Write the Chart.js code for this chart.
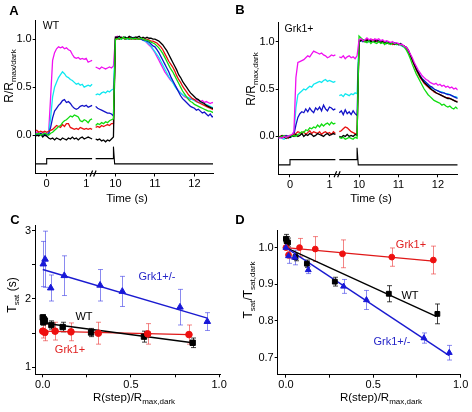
<!DOCTYPE html>
<html><head><meta charset="utf-8">
<script src="https://cdn.jsdelivr.net/npm/chart.js@4/dist/chart.umd.min.js"></script>
<style>
body{margin:0;width:472px;height:412px;background:#fff;position:relative;overflow:hidden;font-family:'Liberation Sans',Arial,Helvetica,sans-serif;color:#000;}
canvas{position:absolute;}
.t{position:absolute;transform:translate(-50%,-50%);white-space:nowrap;line-height:1;}
.r{transform:translate(-50%,-50%) rotate(-90deg);}
.s{font-size:8px;position:relative;top:3px;}
.p{font-weight:bold;font-size:13px;}
</style></head>
<body>
<canvas id="cA" width="236" height="210" style="left:0;top:0"></canvas>
<canvas id="cB" width="236" height="210" style="left:236px;top:0"></canvas>
<canvas id="cC" width="236" height="202" style="left:0;top:210px"></canvas>
<canvas id="cD" width="236" height="202" style="left:236px;top:210px"></canvas>

<div class="t p" style="left:14px;top:10px">A</div>
<div class="t p" style="left:240px;top:9px">B</div>
<div class="t p" style="left:15px;top:219px">C</div>
<div class="t p" style="left:240px;top:219px">D</div>

<div class="t" style="left:51px;top:25px;font-size:10.5px">WT</div>
<div class="t" style="left:299px;top:28px;font-size:10.5px">Grk1+</div>

<div class="t r" style="left:9px;top:76px;font-size:12px">R/R<span class="s">max/dark</span></div>
<div class="t r" style="left:251px;top:79px;font-size:12px">R/R<span class="s">max,dark</span></div>
<div class="t" style="left:127px;top:199px;font-size:11.5px">Time (s)</div>
<div class="t" style="left:371px;top:199px;font-size:11.5px">Time (s)</div>

<div class="t r" style="left:12px;top:295px;font-size:12px">T<span class="s">sat</span> (s)</div>
<div class="t r" style="left:248px;top:290px;font-size:12px">T<span class="s">sat</span>/T<span class="s">sat,dark</span></div>
<div class="t" style="left:134px;top:398px;font-size:11.5px">R(step)/R<span class="s">max,dark</span></div>
<div class="t" style="left:381px;top:398px;font-size:11.5px">R(step)/R<span class="s">max,dark</span></div>

<div class="t" style="left:157px;top:276px;font-size:11px;color:#2424c8">Grk1+/-</div>
<div class="t" style="left:84px;top:316px;font-size:11px">WT</div>
<div class="t" style="left:70px;top:349px;font-size:11px;color:#e02020">Grk1+</div>
<div class="t" style="left:411px;top:244px;font-size:11px;color:#e02020">Grk1+</div>
<div class="t" style="left:410px;top:295px;font-size:11px">WT</div>
<div class="t" style="left:392px;top:341px;font-size:11px;color:#2424c8">Grk1+/-</div>

<script>
// ---------- sampling grids (s) ----------
const leftTimes = []; for (let i = 0; i < 30; i++) leftTimes.push(+(-0.3 + 0.05 * i).toFixed(2));
const rightTimes = []; for (let i = 0; i < 61; i++) rightTimes.push(+(9.5 + 0.05 * i).toFixed(2));

// ---------- Panel A (WT) traces ----------
const aMagentaL = [0.02,0.03,0.02,0.01,0.03,0.02,0.01,0.03,0.40,0.78,0.86,0.90,0.92,0.91,0.92,0.90,0.91,0.89,0.88,0.84,0.81,0.80,0.81,0.79,0.80,0.79,0.80,0.76,0.77,0.78];
const aCyanL    = [0.01,0.00,0.02,0.01,0.00,0.01,0.00,0.02,0.18,0.40,0.50,0.55,0.60,0.63,0.66,0.64,0.61,0.60,0.58,0.57,0.55,0.53,0.54,0.52,0.53,0.50,0.51,0.52,0.51,0.53];
const aBlueL    = [0.00,0.01,0.00,0.02,0.00,0.01,0.00,0.01,0.08,0.18,0.25,0.28,0.31,0.33,0.36,0.37,0.34,0.35,0.33,0.30,0.28,0.27,0.28,0.30,0.31,0.30,0.31,0.29,0.30,0.31];
const aGreenL   = [0.02,0.01,0.02,0.00,0.01,0.02,0.01,0.00,0.02,0.03,0.05,0.07,0.09,0.10,0.13,0.15,0.16,0.18,0.20,0.19,0.21,0.20,0.19,0.15,0.14,0.16,0.15,0.13,0.16,0.17];
const aRedL     = [0.04,0.05,0.03,0.04,0.03,0.04,0.03,0.04,0.05,0.06,0.08,0.10,0.09,0.08,0.11,0.09,0.12,0.12,0.08,0.07,0.06,0.07,0.06,0.08,0.07,0.06,0.07,0.06,0.07,0.06];
const aBlackL   = [-0.02,0.00,-0.01,0.01,-0.02,0.00,-0.01,-0.03,-0.04,-0.03,-0.05,-0.03,-0.04,-0.05,-0.03,-0.04,-0.05,-0.03,-0.04,-0.02,-0.04,-0.03,-0.05,-0.03,-0.02,-0.04,-0.03,-0.02,-0.03,-0.04];

const aMagentaR = [0.71,0.70,0.69,0.71,0.70,0.69,0.70,0.71,0.70,0.72, 1.02, 1.03,1.02,1.01,1.02,1.00,1.01,1.02,1.00,1.01, 1.02,1.01,1.00,1.01,0.99,0.98,0.96,0.94,0.92,0.89, 0.86,0.82,0.78,0.74,0.70,0.66,0.63,0.60,0.57,0.55, 0.52,0.49,0.46,0.44,0.42,0.40,0.39,0.38,0.37,0.38, 0.36,0.37,0.36,0.35,0.36,0.34,0.35,0.34,0.33,0.34,0.33];
const aCyanR    = [0.42,0.43,0.42,0.44,0.45,0.44,0.46,0.45,0.47,0.48, 1.00, 1.01,1.02,1.00,1.01,1.02,1.00,1.01,1.00,1.02, 1.01,1.00,1.01,1.00,0.99,0.98,0.97,0.95,0.93,0.90, 0.87,0.84,0.81,0.77,0.73,0.69,0.65,0.61,0.58,0.55, 0.51,0.48,0.46,0.44,0.42,0.41,0.40,0.39,0.38,0.37, 0.36,0.35,0.34,0.34,0.33,0.32,0.32,0.31,0.30,0.29,0.28];
const aBlueR    = [0.30,0.28,0.27,0.26,0.25,0.24,0.23,0.23,0.22,0.20, 1.00, 1.01,1.00,1.02,1.01,1.00,1.01,1.00,1.02,1.01, 1.00,1.01,1.00,1.00,0.99,0.99,0.98,0.97,0.95,0.93, 0.92,0.89,0.86,0.82,0.78,0.74,0.70,0.66,0.61,0.57, 0.53,0.49,0.45,0.41,0.38,0.36,0.34,0.32,0.30,0.29, 0.28,0.26,0.27,0.25,0.23,0.24,0.22,0.20,0.22,0.19,0.20];
const aGreenR   = [0.10,0.12,0.11,0.13,0.12,0.14,0.13,0.15,0.16,0.17, 1.00, 1.00,1.01,1.00,1.02,1.00,1.01,1.00,1.01,1.00, 1.01,1.00,1.00,1.01,1.00,0.99,0.99,0.98,0.97,0.96, 0.95,0.93,0.91,0.88,0.85,0.81,0.77,0.73,0.69,0.66, 0.62,0.58,0.54,0.50,0.46,0.43,0.40,0.37,0.35,0.34, 0.32,0.31,0.30,0.29,0.28,0.27,0.26,0.25,0.25,0.24,0.23];
const aRedR     = [0.08,0.09,0.08,0.10,0.09,0.10,0.11,0.10,0.12,0.12, 1.00, 1.01,1.00,1.02,1.01,1.00,1.01,1.02,1.00,1.01, 1.00,1.01,1.00,1.01,1.00,1.00,1.00,0.99,0.98,0.98, 0.97,0.96,0.94,0.92,0.89,0.85,0.81,0.77,0.74,0.71, 0.67,0.62,0.58,0.55,0.51,0.48,0.45,0.42,0.40,0.38, 0.37,0.35,0.34,0.33,0.32,0.31,0.30,0.29,0.28,0.27,0.26];
const aBlackR   = [-0.04,-0.05,-0.04,-0.06,-0.05,-0.07,-0.05,-0.06,-0.04,-0.02, 1.02, 1.02,1.03,1.01,1.02,1.02,1.01,1.03,1.02,1.01, 1.02,1.02,1.03,1.01,1.02,1.01,1.02,1.01,1.01,1.00, 1.00,0.99,0.98,0.96,0.94,0.91,0.88,0.84,0.80,0.76, 0.72,0.68,0.63,0.60,0.56,0.53,0.50,0.47,0.44,0.42, 0.40,0.38,0.37,0.35,0.34,0.33,0.31,0.30,0.29,0.28,0.28];

// ---------- Panel B (Grk1+) traces ----------
const bMagentaL = [-0.02,-0.01,-0.02,0.00,-0.01,0.00,0.01,0.02,0.05,0.62,0.78,0.79,0.80,0.81,0.83,0.85,0.84,0.87,0.90,0.89,0.88,0.87,0.88,0.86,0.85,0.83,0.84,0.86,0.85,0.86];
const bCyanL    = [-0.02,-0.01,-0.02,-0.03,-0.01,-0.02,-0.01,0.00,0.02,0.30,0.44,0.46,0.48,0.50,0.49,0.51,0.53,0.52,0.55,0.56,0.57,0.58,0.57,0.59,0.60,0.58,0.59,0.58,0.57,0.58];
const bBlueL    = [-0.01,0.00,-0.01,0.00,0.01,0.00,-0.01,0.00,0.02,0.12,0.20,0.24,0.26,0.25,0.29,0.26,0.30,0.27,0.25,0.30,0.28,0.31,0.27,0.33,0.29,0.27,0.31,0.30,0.28,0.29];
const bGreenL   = [0.00,-0.01,0.00,0.01,-0.01,0.00,0.01,0.00,0.01,0.00,0.02,0.03,0.05,0.04,0.07,0.06,0.09,0.08,0.10,0.09,0.12,0.10,0.13,0.11,0.13,0.14,0.12,0.15,0.13,0.14];
const bRedL     = [-0.01,0.00,0.01,-0.01,0.00,-0.02,0.00,0.01,0.02,0.03,0.05,0.04,0.03,0.05,0.02,0.04,0.06,0.03,0.05,0.04,0.03,0.05,0.02,0.04,0.05,0.03,0.04,0.02,0.05,0.03];
const bBlackL   = [0.00,-0.01,0.01,0.00,-0.02,0.00,-0.01,0.01,0.00,0.02,0.00,0.01,0.03,0.00,0.02,0.01,0.03,0.02,0.00,0.01,0.03,0.02,0.01,0.00,0.02,0.03,0.01,0.02,0.03,0.02];

const bMagentaR = [0.84,0.83,0.85,0.82,0.84,0.85,0.83,0.84,0.82,0.85, 1.02, 1.03,1.01,1.02,1.04,1.02,1.03,1.01,1.03,1.02, 1.03,1.01,1.02,1.00,1.01,1.00,0.99,1.00,0.98,0.99, 0.98,0.97,0.97,0.95,0.94,0.91,0.87,0.83,0.78,0.74, 0.70,0.67,0.64,0.62,0.60,0.59,0.57,0.56,0.55,0.56, 0.54,0.55,0.53,0.54,0.52,0.53,0.51,0.52,0.50,0.51,0.49];
const bCyanR    = [0.43,0.44,0.42,0.45,0.44,0.43,0.45,0.44,0.46,0.45, 1.00, 1.01,1.00,1.02,1.01,1.00,1.02,1.01,1.00,1.01, 1.00,0.99,1.00,0.99,0.98,0.99,0.98,0.97,0.98,0.97, 0.97,0.96,0.95,0.94,0.92,0.89,0.85,0.80,0.75,0.71, 0.67,0.63,0.60,0.58,0.56,0.54,0.52,0.51,0.50,0.49, 0.48,0.47,0.47,0.46,0.45,0.45,0.44,0.43,0.42,0.42,0.41];
const bBlueR    = [0.25,0.27,0.23,0.28,0.24,0.26,0.23,0.27,0.24,0.22, 1.00, 1.02,1.00,1.01,1.03,1.00,1.02,1.01,1.02,1.00, 1.01,1.00,1.01,0.99,1.00,0.98,0.99,0.98,0.99,0.98, 0.97,0.98,0.96,0.95,0.93,0.90,0.86,0.81,0.76,0.72, 0.68,0.64,0.61,0.59,0.57,0.55,0.53,0.52,0.50,0.49, 0.48,0.47,0.46,0.46,0.45,0.44,0.44,0.43,0.42,0.41,0.40];
const bGreenR   = [-0.01,-0.02,-0.01,-0.03,-0.02,-0.01,-0.02,-0.03,-0.01,-0.02, 1.06, 1.04,1.02,1.00,0.99,1.01,0.98,1.00,0.99,0.98, 1.00,0.98,0.99,0.97,0.99,0.98,0.97,0.99,0.98,0.97, 0.98,0.97,0.96,0.94,0.91,0.87,0.82,0.76,0.71,0.66, 0.62,0.58,0.54,0.50,0.47,0.44,0.42,0.40,0.38,0.37, 0.36,0.35,0.33,0.34,0.32,0.31,0.32,0.30,0.29,0.31,0.29];
const bRedR     = [0.05,0.06,0.08,0.10,0.09,0.07,0.05,0.04,0.03,0.02, 1.00, 1.02,1.01,1.00,1.02,1.01,1.00,1.02,1.00,1.01, 1.00,0.99,1.00,0.98,0.99,0.98,0.99,0.97,0.98,0.98, 0.97,0.97,0.96,0.95,0.93,0.90,0.85,0.80,0.75,0.70, 0.66,0.62,0.59,0.56,0.54,0.52,0.50,0.49,0.47,0.46, 0.45,0.44,0.43,0.42,0.41,0.41,0.40,0.39,0.38,0.37,0.37];
const bBlackR   = [0.00,-0.01,0.01,0.00,0.02,0.00,0.01,0.00,0.02,0.01, 1.00, 1.01,1.02,1.00,1.01,1.02,1.00,1.01,1.00,1.02, 1.00,0.99,1.00,0.99,0.98,0.99,0.98,0.99,0.97,0.98, 0.97,0.98,0.96,0.95,0.94,0.91,0.86,0.81,0.76,0.71, 0.67,0.63,0.60,0.57,0.55,0.53,0.51,0.49,0.48,0.46, 0.45,0.44,0.43,0.42,0.41,0.40,0.40,0.39,0.38,0.37,0.36];

// ---------- stimulus monitor (light step) ----------
const stimTimes  = [-0.3, 0.0, 0.0, 1.15, null, 9.5, 9.95, 9.95, 9.98, 12.5];
const stimValues = [-0.30, -0.30, -0.245, -0.245, null, -0.245, -0.245, -0.12, -0.30, -0.30];

// ---------- x tick labels for A/B (real time, s) ----------
const timeTicks = [0, 1, 10, 11, 12];
const timeTickLabels = ['0', '1', '10', '11', '12'];
const respTicks = [0, 0.5, 1.0];

// ---------- Panel C: Tsat (s) vs R(step)/Rmax,dark ----------
const cWtX  = [0.0, 0.003, 0.006, 0.012, 0.049, 0.113, 0.274, 0.574, 0.85];
const cWtY  = [1.73, 1.66, 1.70, 1.68, 1.62, 1.59, 1.51, 1.45, 1.36];
const cWtE  = [0.04, 0.04, 0.04, 0.04, 0.06, 0.07, 0.06, 0.08, 0.07];
const cGrkX = [0.0, 0.012, 0.07, 0.16, 0.315, 0.595, 0.829];
const cGrkY = [1.53, 1.51, 1.53, 1.52, 1.50, 1.49, 1.48];
const cGrkE = [0.10, 0.12, 0.13, 0.13, 0.16, 0.15, 0.14];
const cHetX = [0.003, 0.013, 0.045, 0.122, 0.325, 0.451, 0.778, 0.933];
const cHetY = [2.51, 2.58, 2.16, 2.34, 2.20, 2.11, 1.88, 1.67];
const cHetE = [0.33, 0.41, 0.19, 0.29, 0.23, 0.22, 0.26, 0.13];
const cFitWtX = [0, 0.85],   cFitWtY = [1.65, 1.36];
const cFitGrkX = [0, 0.83],  cFitGrkY = [1.53, 1.48];
const cFitHetX = [0, 0.933], cFitHetY = [2.43, 1.72];

// ---------- Panel D: Tsat/Tsat,dark vs R(step)/Rmax,dark ----------
const dWtX  = [0.0, 0.004, 0.012, 0.055, 0.12, 0.28, 0.589, 0.867];
const dWtY  = [1.024, 1.018, 1.014, 0.974, 0.956, 0.907, 0.874, 0.819];
const dWtE  = [0.012, 0.012, 0.012, 0.01, 0.01, 0.012, 0.022, 0.027];
const dGrkX = [0.0, 0.015, 0.078, 0.168, 0.324, 0.606, 0.844];
const dGrkY = [1.0, 0.98, 1.0, 0.996, 0.983, 0.974, 0.966];
const dGrkE = [0.005, 0.01, 0.025, 0.034, 0.038, 0.025, 0.038];
const dHetX = [0.0, 0.015, 0.05, 0.128, 0.33, 0.461, 0.79, 0.935];
const dHetY = [1.0, 0.977, 0.973, 0.939, 0.894, 0.857, 0.753, 0.713];
const dHetE = [0.005, 0.02, 0.02, 0.01, 0.019, 0.026, 0.014, 0.02];
const dFitWtX = [0, 0.86],   dFitWtY = [1.0, 0.812];
const dFitGrkX = [0, 0.844], dFitGrkY = [1.0, 0.963];
const dFitHetX = [0, 0.935], dFitHetY = [1.0, 0.705];

const COL = {magenta:'#f010f0', cyan:'#10e8f0', blue:'#1212c8', green:'#10dc10', red:'#e81010', black:'#000000'};

Chart.defaults.font.family = "'Liberation Sans', Arial, Helvetica, sans-serif";
Chart.defaults.font.size = 11;
Chart.defaults.color = '#000';

function axis(o) {
  return {
    type: 'linear', min: o.min, max: o.max, position: o.pos,
    afterFit: s => { if (o.pos === 'left') s.width = o.size; else s.height = o.size; },
    afterBuildTicks: s => { s.ticks = o.ticks.map(v => ({ value: v })); },
    ticks: { autoSkip: false, maxRotation: 0, padding: 1, color: '#000', font: { size: 11 },
             callback: (v, i) => o.labels[i] },
    grid: { drawOnChartArea: false, drawTicks: true, tickLength: 3, color: '#000', lineWidth: 1 },
    border: { display: true, color: '#000', width: 1 }
  };
}

const breakMarks = {
  id: 'breakMarks',
  afterDraw(chart, args, opts) {
    if (opts.at === undefined) return;
    const ctx = chart.ctx;
    const x = chart.scales.x.getPixelForValue(opts.at);
    const y = chart.chartArea.bottom;
    ctx.save();
    ctx.strokeStyle = '#000'; ctx.lineWidth = 1.2;
    ctx.beginPath();
    ctx.moveTo(x - 4, y + 3); ctx.lineTo(x - 1.5, y - 3);
    ctx.moveTo(x - 0.5, y + 3); ctx.lineTo(x + 2, y - 3);
    ctx.stroke();
    ctx.restore();
  }
};

const errBars = {
  id: 'errBars',
  beforeDatasetsDraw(chart) {
    const ctx = chart.ctx, xs = chart.scales.x, ys = chart.scales.y;
    chart.data.datasets.forEach(ds => {
      if (!ds.errs) return;
      ctx.save();
      ctx.strokeStyle = ds.errColor; ctx.lineWidth = 1;
      ds.data.forEach((p, i) => {
        const e = ds.errs[i];
        const x = Math.round(xs.getPixelForValue(p.x)) + 0.5;
        const y1 = ys.getPixelForValue(p.y + e), y2 = ys.getPixelForValue(p.y - e);
        ctx.beginPath();
        ctx.moveTo(x, y1); ctx.lineTo(x, y2);
        ctx.moveTo(x - 2.5, y1); ctx.lineTo(x + 2.5, y1);
        ctx.moveTo(x - 2.5, y2); ctx.lineTo(x + 2.5, y2);
        ctx.stroke();
      });
      ctx.restore();
    });
  }
};

function traceChart(id, p) {
  const toD = t => (t > 5 ? t - p.offset : t);
  const mk = (L, R, color) => ({
    data: leftTimes.map((t, i) => ({ x: toD(t), y: L[i] }))
      .concat([{ x: 1.2, y: null }])
      .concat(rightTimes.map((t, i) => ({ x: toD(t), y: R[i] }))),
    borderColor: color, borderWidth: 1.3, pointRadius: 0, showLine: true, spanGaps: false, tension: 0
  });
  const datasets = p.traces.map(tr => mk(tr[0], tr[1], tr[2]));
  datasets.push({
    data: stimTimes.map((t, i) => ({ x: t === null ? 1.2 : toD(t), y: stimValues[i] })),
    borderColor: '#000', borderWidth: 1.1, pointRadius: 0, showLine: true, spanGaps: false, tension: 0
  });
  return new Chart(document.getElementById(id), {
    type: 'scatter',
    data: { datasets },
    options: {
      responsive: false, animation: false, events: [],
      layout: { padding: { top: p.padTop, right: p.padRight, left: 0, bottom: 0 }, autoPadding: false },
      plugins: { legend: { display: false }, tooltip: { enabled: false }, breakMarks: { at: p.breakAt } },
      scales: {
        x: axis({ min: p.xMin, max: p.xMax, pos: 'bottom', size: p.xH, ticks: timeTicks.map(toD), labels: timeTickLabels }),
        y: axis({ min: -0.4, max: 1.2, pos: 'left', size: p.yW, ticks: respTicks, labels: respTicks.map(v => v.toFixed(1)) })
      }
    },
    plugins: [breakMarks]
  });
}

traceChart('cA', {
  offset: 8.26, xMin: -0.278, xMax: 4.21, yW: 35.7, xH: 36.5, padTop: 20, padRight: 23, breakAt: 1.2,
  traces: [
    [aGreenL, aGreenR, COL.green], [aBlackL, aBlackR, COL.black], [aRedL, aRedR, COL.red],
    [aBlueL, aBlueR, COL.blue], [aCyanL, aCyanR, COL.cyan], [aMagentaL, aMagentaR, COL.magenta]
  ]
});
traceChart('cB', {
  offset: 8.25, xMin: -0.286, xMax: 4.25, yW: 42.7, xH: 35.7, padTop: 22.7, padRight: 14.3, breakAt: 1.22,
  traces: [
    [bMagentaL, bMagentaR, COL.magenta], [bGreenL, bGreenR, COL.green], [bBlackL, bBlackR, COL.black],
    [bRedL, bRedR, COL.red], [bBlueL, bBlueR, COL.blue], [bCyanL, bCyanR, COL.cyan]
  ]
});

function scatterChart(id, p) {
  const pts = (X, Y) => X.map((x, i) => ({ x, y: Y[i] }));
  const fit = (X, Y, c) => ({ data: pts(X, Y), showLine: true, pointRadius: 0, borderColor: c, borderWidth: 1.4, order: 5 });
  const mark = (X, Y, E, c, ec, style, r) => ({
    data: pts(X, Y), errs: E, errColor: ec, pointStyle: style, pointRadius: r,
    backgroundColor: c, borderColor: c, borderWidth: 1, order: 1
  });
  return new Chart(document.getElementById(id), {
    type: 'scatter',
    data: { datasets: [
      fit(p.fits[0][0], p.fits[0][1], '#1a1ad0'),
      fit(p.fits[1][0], p.fits[1][1], '#000'),
      fit(p.fits[2][0], p.fits[2][1], '#e01818'),
      mark(p.het[0], p.het[1], p.het[2], '#1818d8', 'rgba(60,60,230,0.6)', 'triangle', p.r + 0.5),
      mark(p.grk[0], p.grk[1], p.grk[2], '#ee1010', 'rgba(235,50,50,0.6)', 'circle', p.r),
      mark(p.wt[0], p.wt[1], p.wt[2], '#000', 'rgba(0,0,0,0.75)', 'rect', p.r + 0.5)
    ] },
    options: {
      responsive: false, animation: false, events: [],
      layout: { padding: { top: p.padTop, right: p.padRight, left: 0, bottom: 0 }, autoPadding: false },
      plugins: { legend: { display: false }, tooltip: { enabled: false } },
      scales: {
        x: axis({ min: p.xMin, max: p.xMax, pos: 'bottom', size: p.xH, ticks: [0, 0.25, 0.5, 0.75, 1.0], labels: ['0.0', '', '0.5', '', '1.0'] }),
        y: axis({ min: p.yMin, max: p.yMax, pos: 'left', size: p.yW, ticks: p.yTicks, labels: p.yLabels })
      }
    },
    plugins: [errBars]
  });
}

scatterChart('cC', {
  xMin: -0.044, xMax: 1.005, yMin: 0.90, yMax: 3.08, yW: 35, xH: 37.7, padTop: 15, padRight: 16, r: 3.3,
  yTicks: [1, 1.5, 2, 2.5, 3], yLabels: ['1', '', '2', '', '3'],
  fits: [[cFitHetX, cFitHetY], [cFitWtX, cFitWtY], [cFitGrkX, cFitGrkY]],
  het: [cHetX, cHetY, cHetE], grk: [cGrkX, cGrkY, cGrkE], wt: [cWtX, cWtY, cWtE]
});
scatterChart('cD', {
  xMin: -0.047, xMax: 1.0, yMin: 0.653, yMax: 1.048, yW: 41.7, xH: 37.3, padTop: 20, padRight: 11.4, r: 2.9,
  yTicks: [0.7, 0.8, 0.9, 1.0], yLabels: ['0.7', '0.8', '0.9', '1.0'],
  fits: [[dFitHetX, dFitHetY], [dFitWtX, dFitWtY], [dFitGrkX, dFitGrkY]],
  het: [dHetX, dHetY, dHetE], grk: [dGrkX, dGrkY, dGrkE], wt: [dWtX, dWtY, dWtE]
});
</script>
</body></html>
